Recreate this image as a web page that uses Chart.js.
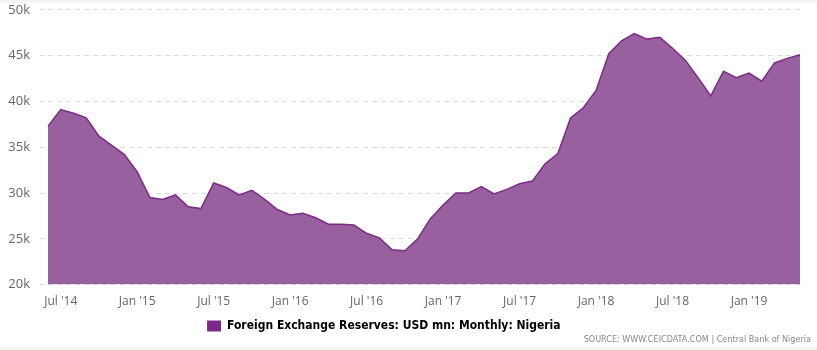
<!DOCTYPE html>
<html>
<head>
<meta charset="utf-8">
<script src="https://cdn.jsdelivr.net/npm/chart.js@4/dist/chart.umd.min.js"></script>
<style>
  html, body { margin: 0; padding: 0; background: #f4f4f4; }
  #wrap { position: relative; width: 817px; height: 350px; background: #fff; overflow: hidden; }
  #chart { position: absolute; left: 0; top: -8px; }
  #wrap .top { position: absolute; left: 0; top: 0; width: 817px; height: 3px; background: #f4f4f4; }
  #wrap .bot { position: absolute; left: 0; bottom: 0; width: 817px; height: 3px; background: #f4f4f4; }
  #src { position: absolute; right: 6px; top: 334px; font: 9px "Liberation Sans Narrow", "DejaVu Sans Condensed", sans-serif; color: #888; }
</style>
</head>
<body>
<div id="wrap">
  <canvas id="chart" width="817" height="358"></canvas>
  <div class="top"></div>
  <div class="bot"></div>
  <div id="src">SOURCE: WWW.CEICDATA.COM | Central Bank of Nigeria</div>
</div>
<script>
var months = ['Jan','Feb','Mar','Apr','May','Jun','Jul','Aug','Sep','Oct','Nov','Dec'];
var labels = [];
for (var y = 2014; y <= 2019; y++) {
  for (var m = 0; m < 12; m++) {
    if (y == 2014 && m < 5) continue;
    if (y == 2019 && m > 4) continue;
    labels.push(months[m] + " '" + String(y).slice(2));
  }
}

// USD mn (thousands)
var reserves = [
  37.3, 39.1, 38.7, 38.2, 36.2, 35.2, 34.2,
  32.3, 29.5, 29.3, 29.8, 28.5, 28.3, 31.1, 30.6, 29.8, 30.3, 29.3, 28.2,
  27.6, 27.8, 27.3, 26.6, 26.6, 26.5, 25.6, 25.1, 23.8, 23.7, 25.0, 27.2,
  28.7, 30.0, 30.0, 30.7, 29.9, 30.4, 31.0, 31.3, 33.2, 34.3, 38.2, 39.3,
  41.2, 45.2, 46.6, 47.4, 46.8, 47.0, 45.8, 44.5, 42.6, 40.6, 43.3, 42.6,
  43.1, 42.2, 44.2, 44.7, 45.1
].map(function(v){ return v * 1000; });

var seriesName = 'Foreign Exchange Reserves: USD mn: Monthly: Nigeria';

var ctx = document.getElementById('chart');
var chart = new Chart(ctx, {
  type: 'line',
  data: {
    labels: labels,
    datasets: [{
      label: seriesName,
      data: reserves,
      fill: 'start',
      backgroundColor: '#9960a0',
      borderColor: '#7a2c84',
      borderWidth: 1.5,
      pointRadius: 0,
      tension: 0
    }]
  },
  options: {
    responsive: false,
    animation: false,
    layout: { padding: { left: 0, right: 17, top: 1, bottom: 8 } },
    plugins: {
      tooltip: { enabled: false },
      legend: {
        position: 'bottom',
        labels: {
          boxWidth: 14,
          boxHeight: 11,
          padding: 9,
          color: '#666',
          font: { family: '"Liberation Sans Narrow", "DejaVu Sans Condensed", sans-serif', size: 12, weight: 'bold' },
          generateLabels: function(c) {
            // trailing em spaces nudge the centred legend a little to the left
            return [{ text: seriesName + '\u2003\u2003\u2003', fillStyle: '#7b2a8a', strokeStyle: '#7b2a8a', lineWidth: 0, datasetIndex: 0 }];
          }
        }
      }
    },
    scales: {
      x: {
        grid: { display: false },
        border: { display: false },
        ticks: {
          autoSkip: false,
          maxRotation: 0,
          padding: 2,
          color: '#666',
          font: { family: '"Open Sans", sans-serif', size: 12 },
          callback: function(val, i) {
            var l = labels[i];
            return (l.indexOf('Jan') == 0 || l.indexOf('Jul') == 0) ? l : '';
          }
        }
      },
      y: {
        min: 20000,
        max: 50000,
        afterFit: function(s) { s.width = 48; },
        grid: { color: '#dcdcdc', tickLength: 8, tickColor: '#dcdcdc', tickBorderDash: [5, 4] },
        border: { display: false, dash: [5, 4] },
        ticks: {
          stepSize: 5000,
          padding: 10,
          color: '#666',
          font: { family: '"Open Sans", sans-serif', size: 13 },
          callback: function(v) { return (v / 1000) + 'k'; }
        }
      }
    }
  }
});
</script>
</body>
</html>
